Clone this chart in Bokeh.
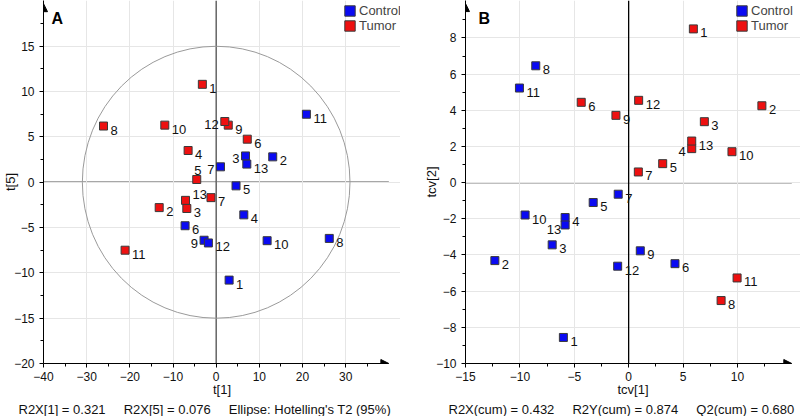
import numpy as np
from bokeh.plotting import figure
from bokeh.layouts import row
from bokeh.models import (ColumnDataSource, FixedTicker, Span, Label, Legend,
                          LegendItem, Arrow, NormalHead, Title)
from bokeh.embed import file_html
from bokeh.resources import INLINE
from bokeh.core.properties import value

FONT = "Liberation Sans"
CONTROL_COLOR = "#0a0af2"
TUMOR_COLOR = "#ee1010"
EDGE = "#3a3a3a"
GAP = "\u00a0" * 5

sample_ids = list(range(1, 14))

# ---------------- Panel A : PCA scores t[1] vs t[5] ----------------
a_control_x = [3.0, 13.1, 6.8, 6.4, 4.6, -7.2, 1.0, 26.2, -2.8, 11.8, 20.9, -1.8, 7.1]
a_control_y = [-10.8, 2.8, 2.9, -3.6, -0.4, -4.8, 1.7, -6.2, -6.4, -6.45, 7.5, -6.7, 2.0]
a_tumor_x = [-3.2, -13.2, -6.8, -6.5, -4.5, 7.2, -1.2, -26.1, 2.8, -11.9, -21.1, 2.0, -7.1]
a_tumor_y = [10.8, -2.8, -2.9, 3.5, 0.3, 4.75, -1.7, 6.2, 6.3, 6.3, -7.5, 6.7, -2.0]
a_x_ticks = [-40, -30, -20, -10, 0, 10, 20, 30]
a_x_minor = [-35, -25, -15, -5, 5, 15, 25, 35]
a_y_ticks = [-20, -15, -10, -5, 0, 5, 10, 15]
a_y_minor = [-17.5, -12.5, -7.5, -2.5, 2.5, 7.5, 12.5, 17.5]
a_x_bounds = (-40, 40)
a_y_bounds = (-20, 19.7)
a_ellipse_radii = (31, 15)   # Hotelling's T2 (95%)
a_footer = ["R2X[1] = 0.321", "R2X[5] = 0.076", "Ellipse: Hotelling's T2 (95%)"]

# ---------------- Panel B : OPLS-DA cross-validated scores ----------------
b_control_x = [-6.0, -12.3, -7.03, -5.84, -3.26, 4.26, -0.96, -8.54, 1.07, -9.52, -10.04, -1.01, -5.84]
b_control_y = [-8.56, -4.31, -3.44, -1.93, -1.1, -4.48, -0.64, 6.46, -3.77, -1.79, 5.23, -4.62, -2.34]
b_tumor_x = [5.95, 12.25, 6.96, 5.8, 3.13, -4.36, 0.89, 8.5, -1.17, 9.5, 9.97, 0.92, 5.8]
b_tumor_y = [8.5, 4.25, 3.37, 1.88, 1.05, 4.44, 0.59, -6.52, 3.72, 1.71, -5.27, 4.55, 2.3]
b_x_ticks = [-15, -10, -5, 0, 5, 10]
b_x_minor = [-12.5, -7.5, -2.5, 2.5, 7.5, 12.5]
b_y_ticks = [-10, -8, -6, -4, -2, 0, 2, 4, 6, 8]
b_y_minor = [-9, -7, -5, -3, -1, 1, 3, 5, 7, 9]
b_x_bounds = (-15, 15)
b_y_bounds = (-10, 9.9)
b_footer = ["R2X(cum) = 0.432", "R2Y(cum) = 0.874", "Q2(cum) = 0.680"]

# label placement (style only)
PLACE_STYLE = {"r": ("left", 7, 4), "l": ("right", -6, 3), "u": ("center", 1, -9),
               "ur": ("left", 7, -6), "dl": ("right", -4, 5)}
A_PLACE = {("Tumor", 12): "l", ("Tumor", 5): "u", ("Tumor", 13): "ur",
           ("Control", 3): "l", ("Control", 7): "l", ("Control", 9): "l"}
B_PLACE = {("Control", 13): "dl", ("Tumor", 4): "l"}


def make_panel(cx, cy, tx, ty, xr, yr, xb, yb, xt, xminor, yt, yminor, place, letter,
               xlabel, ylabel, ylabel_standoff, footer, footer_offset, legend_x,
               border_left, zero_color, ellipse=None):
    p = figure(width=400, height=416, x_range=xr, y_range=yr,
               output_backend="svg", toolbar_location=None,
               min_border_left=border_left, min_border_right=0,
               min_border_top=0, min_border_bottom=53)
    p.outline_line_color = None
    p.background_fill_color = "white"

    for ax, ticks, minor in ((p.xaxis, xt, xminor), (p.yaxis, yt, yminor)):
        ax.ticker = FixedTicker(ticks=ticks, minor_ticks=minor)
        ax.major_tick_in = 0
        ax.major_tick_out = 4
        ax.minor_tick_in = 0
        ax.minor_tick_out = 3
        ax.axis_line_color = "black"
        ax.major_tick_line_color = "black"
        ax.minor_tick_line_color = "black"
        ax.major_label_text_font = FONT
        ax.major_label_text_font_size = "12px"
        ax.major_label_text_color = "#111111"
        ax.axis_label_text_font = FONT
        ax.axis_label_text_font_size = "13px"
        ax.axis_label_text_font_style = "normal"
        ax.axis_label_text_color = "#111111"
    p.xaxis.bounds = xb
    p.xaxis.major_label_standoff = 4
    p.yaxis.major_label_standoff = 5
    p.xaxis.axis_label = xlabel
    p.xaxis.axis_label_standoff = -2
    p.yaxis.axis_label = ylabel
    p.yaxis.axis_label_standoff = ylabel_standoff
    p.xgrid.ticker = FixedTicker(ticks=xt)
    p.ygrid.ticker = FixedTicker(ticks=yt)
    p.ygrid.bounds = xb
    p.grid.grid_line_color = "#e6e6e6"

    # zero lines
    p.add_layout(Span(location=0, dimension="height", line_color=zero_color,
                      line_width=1.3, level="underlay"))
    p.segment(x0=[xb[0]], y0=[0], x1=[xb[1]], y1=[0], line_color=zero_color,
              line_width=1.3, level="underlay")

    if ellipse is not None:
        p.ellipse(x=[0], y=[0], width=[2 * ellipse[0]], height=[2 * ellipse[1]],
                  fill_alpha=0, line_color="#9a9a9a", line_width=1)

    rends = {}
    for grp, xs, ys, col in (("Control", cx, cy, CONTROL_COLOR),
                             ("Tumor", tx, ty, TUMOR_COLOR)):
        src = ColumnDataSource(dict(x=xs, y=ys, label=[str(i) for i in sample_ids]))
        rends[grp] = p.rect(x="x", y="y", width=8, height=8, width_units="screen",
                            height_units="screen", source=src, fill_color=col,
                            line_color=EDGE, line_width=1)
        for key, (align, xo, yo) in PLACE_STYLE.items():
            sel = [i for i, sid in enumerate(sample_ids)
                   if place.get((grp, sid), "r") == key]
            if not sel:
                continue
            lsrc = ColumnDataSource(dict(x=[xs[i] for i in sel], y=[ys[i] for i in sel],
                                         label=[str(sample_ids[i]) for i in sel]))
            p.text(x="x", y="y", text="label", source=lsrc, x_offset=xo, y_offset=yo,
                   text_align=align, text_baseline="middle",
                   text_font=value(FONT), text_font_size="13px", text_color="#111111")

    # axis arrows
    p.add_layout(Arrow(end=NormalHead(size=8, fill_color="black", line_color="black"),
                       x_start=xb[0], y_start=yb[1] - (yb[1] - yb[0]) * 0.03,
                       x_end=xb[0], y_end=yb[1], line_color="black", line_width=1))
    p.add_layout(Arrow(end=NormalHead(size=8, fill_color="black", line_color="black"),
                       x_start=xb[1] - (xb[1] - xb[0]) * 0.03, y_start=yb[0],
                       x_end=xb[1], y_end=yb[0], line_color="black", line_width=1))

    legend = Legend(items=[LegendItem(label="Control", renderers=[rends["Control"]]),
                           LegendItem(label="Tumor", renderers=[rends["Tumor"]])],
                    location=(legend_x, 330), orientation="vertical",
                    glyph_width=13, glyph_height=13, label_height=13,
                    label_standoff=3, spacing=0, padding=0, margin=0,
                    border_line_alpha=0, background_fill_alpha=0,
                    label_text_font=FONT, label_text_font_size="13px")
    p.add_layout(legend)

    p.add_layout(Label(x=letter[1], y=345, x_units="screen", y_units="screen",
                       text=letter[0], text_font=FONT, text_font_size="16px",
                       text_font_style="bold", text_baseline="middle",
                       text_color="black"))
    p.add_layout(Title(text=GAP.join(footer), align="left", offset=footer_offset,
                       text_font=FONT, text_font_size="13px", text_font_style="normal",
                       text_color="#111111", standoff=0), "below")
    return p


pA = make_panel(a_control_x, a_control_y, a_tumor_x, a_tumor_y,
                (-40, 42.7), (-20, 20.05), a_x_bounds, a_y_bounds,
                a_x_ticks, a_x_minor, a_y_ticks, a_y_minor,
                A_PLACE, ("A", 8), "t[1]", "t[5]", -7,
                a_footer, -25, 300, 42, "#505050",
                ellipse=a_ellipse_radii)

pB = make_panel(b_control_x, b_control_y, b_tumor_x, b_tumor_y,
                (-15, 15.8), (-10, 10.07), b_x_bounds, b_y_bounds,
                b_x_ticks, b_x_minor, b_y_ticks, b_y_minor,
                B_PLACE, ("B", 13), "tcv[1]", "tcv[2]", -6,
                b_footer, -17, 270, 65, "black")

layout = row(pA, pB, spacing=0)
open("out.html", "w").write(file_html(layout, INLINE))
